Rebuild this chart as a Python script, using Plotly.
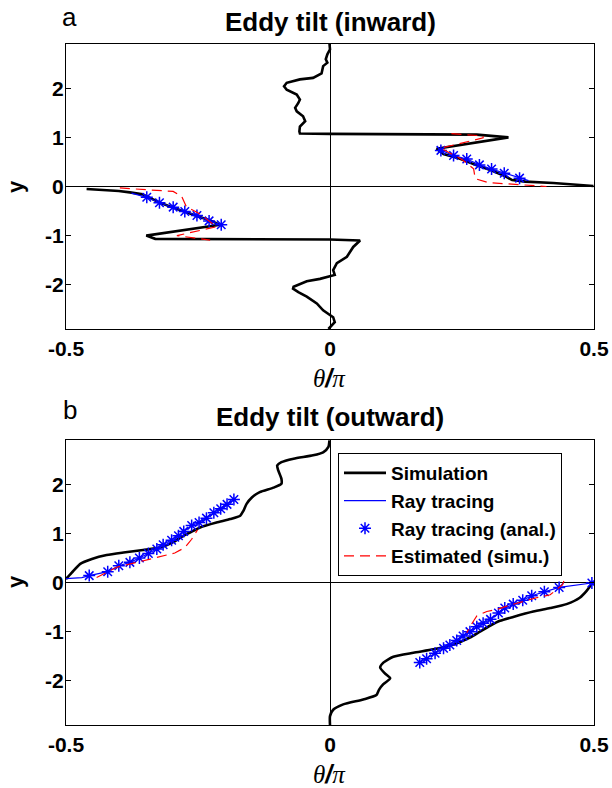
import plotly.graph_objects as go

# ---------------- Panel a: Eddy tilt (inward) ----------------
a_sim_x = [-0.001, 0.0, -0.005, -0.008, -0.005, -0.013, -0.016, -0.032, -0.057, -0.082, -0.087, -0.082,
           -0.063, -0.057, -0.060, -0.066, -0.063, -0.051, -0.047, -0.057, -0.058, -0.057,
           0.0, 0.278, 0.338, 0.202, 0.215, 0.245, 0.278, 0.305, 0.330, 0.345, 0.37, 0.423, 0.499,
           None,
           -0.461, -0.40, -0.379, -0.355, -0.347, -0.322, -0.297, -0.275, -0.252, -0.227, -0.208,
           -0.348, -0.331, 0.0, 0.057, 0.044, 0.032, 0.013, 0.006, 0.009, -0.019, -0.044, -0.069,
           -0.070, -0.060, -0.044, -0.025, -0.013, 0.0, 0.006, 0.009, 0.0, -0.003]
a_sim_y = [2.91, 2.79, 2.69, 2.59, 2.52, 2.45, 2.30, 2.21, 2.18, 2.11, 2.04, 1.97,
           1.87, 1.77, 1.70, 1.60, 1.53, 1.43, 1.33, 1.22, 1.12, 1.08,
           1.07, 1.055, 1.0, 0.77, 0.66, 0.57, 0.43, 0.33, 0.22, 0.13, 0.10, 0.07, 0.01,
           None,
           -0.05, -0.09, -0.12, -0.16, -0.20, -0.33, -0.43, -0.52, -0.60, -0.69, -0.78,
           -1.0, -1.065, -1.08, -1.10, -1.23, -1.43, -1.56, -1.70, -1.80, -1.88, -1.93, -2.04,
           -2.08, -2.15, -2.24, -2.38, -2.52, -2.62, -2.66, -2.76, -2.86, -2.90]

a_ray_x = [0.205, 0.210, 0.234, 0.259, 0.283, 0.306, 0.330, 0.359, 0.376, None,
           -0.376, -0.347, -0.323, -0.297, -0.275, -0.252, -0.229, -0.206]
a_ray_y = [0.76, 0.735, 0.63, 0.56, 0.44, 0.355, 0.27, 0.17, 0.12, None,
           -0.135, -0.22, -0.33, -0.42, -0.51, -0.59, -0.70, -0.78]

a_anal_x = [0.210, 0.234, 0.259, 0.283, 0.306, 0.330, 0.359,
            -0.347, -0.323, -0.297, -0.275, -0.252, -0.229, -0.206]
a_anal_y = [0.735, 0.63, 0.56, 0.44, 0.355, 0.27, 0.17,
            -0.22, -0.33, -0.42, -0.51, -0.59, -0.70, -0.78]

a_est_x = [0.23, 0.29, 0.29, 0.21, 0.25, 0.272, 0.275, 0.30, 0.41, None,
           -0.398, -0.297, -0.281, -0.272, -0.246, -0.215, -0.290, -0.227]
a_est_y = [1.075, 1.03, 0.99, 0.78, 0.55, 0.36, 0.16, 0.08, 0.0, None,
           -0.03, -0.10, -0.20, -0.41, -0.56, -0.82, -1.0, -1.09]

# ---------------- Panel b: Eddy tilt (outward) ----------------
b_sim_x = [-0.001, -0.003, -0.013, -0.032, -0.069, -0.092, -0.100, -0.098, -0.092, -0.092, -0.107,
           -0.133, -0.148, -0.158, -0.164, -0.170, -0.189, -0.215, -0.246, -0.259, -0.278, -0.297,
           -0.322, -0.354, -0.391, -0.423, -0.451, -0.473, -0.489, -0.5,
           None,
           0.496, 0.486, 0.473, 0.448, 0.417, 0.385, 0.347, 0.322, 0.303, 0.284, 0.265, 0.234,
           0.196, 0.158, 0.120, 0.101, 0.095, 0.104, 0.114, 0.101, 0.093, 0.088, 0.063, 0.025,
           0.006, 0.0, 0.0]
b_sim_y = [2.89, 2.76, 2.65, 2.59, 2.52, 2.45, 2.38, 2.28, 2.11, 2.01, 1.93,
           1.84, 1.73, 1.60, 1.46, 1.36, 1.29, 1.22, 1.12, 1.05, 0.95, 0.82,
           0.71, 0.66, 0.61, 0.56, 0.48, 0.38, 0.20, 0.07,
           None,
           -0.02, -0.17, -0.31, -0.44, -0.52, -0.59, -0.70, -0.78, -0.88, -1.00, -1.12, -1.26,
           -1.36, -1.43, -1.51, -1.63, -1.73, -1.85, -1.95, -2.07, -2.18, -2.29, -2.38, -2.48,
           -2.59, -2.72, -2.90]

b_anal_x = [-0.456, -0.421, -0.400, -0.379, -0.361, -0.344, -0.328, -0.316, -0.300, -0.287,
            -0.277, -0.262, -0.248, -0.234, -0.220, -0.207, -0.195, -0.182,
            0.496, 0.434, 0.406, 0.382, 0.365, 0.347, 0.331, 0.319, 0.304, 0.290,
            0.278, 0.265, 0.252, 0.240, 0.227, 0.215, 0.199, 0.183, 0.170]
b_anal_y = [0.14, 0.22, 0.34, 0.41, 0.50, 0.59, 0.68, 0.77, 0.86, 0.95,
            1.04, 1.16, 1.22, 1.31, 1.42, 1.50, 1.59, 1.69,
            -0.01, -0.10, -0.19, -0.27, -0.36, -0.44, -0.52, -0.62, -0.75, -0.83,
            -0.90, -1.00, -1.09, -1.18, -1.27, -1.34, -1.44, -1.55, -1.63]

b_ray_x = [-0.5, -0.47, -0.456, -0.421, -0.400, -0.379, -0.361, -0.344, -0.328, -0.316, -0.300,
           -0.287, -0.277, -0.262, -0.248, -0.234, -0.220, -0.207, -0.195, -0.182, None,
           0.5, 0.496, 0.434, 0.406, 0.382, 0.365, 0.347, 0.331, 0.319, 0.304, 0.290,
           0.278, 0.265, 0.252, 0.240, 0.227, 0.215, 0.199, 0.183, 0.170]
b_ray_y = [0.08, 0.10, 0.14, 0.22, 0.34, 0.41, 0.50, 0.59, 0.68, 0.77, 0.86,
           0.95, 1.04, 1.16, 1.22, 1.31, 1.42, 1.50, 1.59, 1.69, None,
           0.0, -0.01, -0.10, -0.19, -0.27, -0.36, -0.44, -0.52, -0.62, -0.75, -0.83,
           -0.90, -1.00, -1.09, -1.18, -1.27, -1.34, -1.44, -1.55, -1.63]

b_est_x = [-0.442, -0.404, -0.366, -0.328, -0.294, -0.275, -0.262, -0.251, None,
           0.443, 0.440, 0.417, 0.391, 0.335, 0.316, 0.297, 0.278, 0.268, 0.259]
b_est_y = [0.10, 0.31, 0.41, 0.51, 0.60, 0.71, 0.88, 1.07, None,
           0.03, -0.05, -0.25, -0.31, -0.48, -0.55, -0.59, -0.68, -0.85, -1.02]

x_ticks = [-0.5, 0, 0.5]
x_ticktext = ["-0.5", "0", "0.5"]
y_ticks = [-2, -1, 0, 1, 2]
y_ticktext = ["-2", "-1", "0", "1", "2"]

W, H = 612, 788
ML, MR = 66, 18
PW = W - ML - MR

def px_x(p):
    return (p - ML) / PW

def px_y(p):
    return 1 - p / H

FONT = "Liberation Sans, Arial, sans-serif"
sim_line = dict(color="black", width=2.6)
ray_line = dict(color="#0000ff", width=1.2)
est_line = dict(color="#ff0000", width=1.2, dash="10px,6px")
star = dict(symbol="asterisk-open", size=10, color="#0000ff", line=dict(color="#0000ff", width=1.5))

fig = go.Figure()
for xs, ys, xa, ya, show, shape in [
    ((a_sim_x, a_ray_x, a_anal_x, a_est_x), (a_sim_y, a_ray_y, a_anal_y, a_est_y), "x", "y", False, "linear"),
    ((b_sim_x, b_ray_x, b_anal_x, b_est_x), (b_sim_y, b_ray_y, b_anal_y, b_est_y), "x2", "y2", True, "spline"),
]:
    fig.add_trace(go.Scatter(x=xs[0], y=ys[0], mode="lines", line=dict(sim_line, shape=shape, smoothing=0.6),
                             name="Simulation", xaxis=xa, yaxis=ya, showlegend=show, connectgaps=False))
    fig.add_trace(go.Scatter(x=xs[1], y=ys[1], mode="lines", line=ray_line, name="Ray tracing",
                             xaxis=xa, yaxis=ya, showlegend=show, connectgaps=False))
    fig.add_trace(go.Scatter(x=xs[2], y=ys[2], mode="markers", marker=star, name="Ray tracing (anal.)",
                             xaxis=xa, yaxis=ya, showlegend=show))
    fig.add_trace(go.Scatter(x=xs[3], y=ys[3], mode="lines", line=est_line, name="Estimated (simu.)",
                             xaxis=xa, yaxis=ya, showlegend=show, connectgaps=False))

axis_common = dict(showline=True, mirror="ticks", linecolor="black", linewidth=1,
                   ticks="inside", ticklen=5, tickcolor="black", showgrid=False,
                   zeroline=True, zerolinecolor="black", zerolinewidth=1,
                   tickfont=dict(family=FONT, size=21, color="black", weight="bold"))

top_dom = [px_y(329), px_y(44)]
bot_dom = [px_y(725), px_y(440)]

fig.update_layout(
    width=W, height=H,
    margin=dict(l=ML, r=MR, t=0, b=0),
    plot_bgcolor="white", paper_bgcolor="white",
    xaxis=dict(axis_common, range=[-0.5, 0.5], tickvals=x_ticks, ticktext=x_ticktext,
               anchor="y", domain=[0, 1], ticklabelstandoff=1),
    yaxis=dict(axis_common, range=[-2.9, 2.9], tickvals=y_ticks, ticktext=y_ticktext,
               anchor="x", domain=top_dom, ticklabelstandoff=-3),
    xaxis2=dict(axis_common, range=[-0.5, 0.5], tickvals=x_ticks, ticktext=x_ticktext,
                anchor="y2", domain=[0, 1], ticklabelstandoff=1),
    yaxis2=dict(axis_common, range=[-2.9, 2.9], tickvals=y_ticks, ticktext=y_ticktext,
                anchor="x2", domain=bot_dom, ticklabelstandoff=-3),
    legend=dict(x=px_x(338), y=px_y(453), xanchor="left", yanchor="top",
                bgcolor="white", bordercolor="black", borderwidth=1,
                font=dict(family=FONT, size=19, color="black", weight="bold"),
                tracegroupgap=0, itemwidth=42),
    showlegend=True,
)

slash = '<span style="font-family:Liberation Sans;font-weight:bold;font-style:italic">/</span>'
annos = [
    dict(text="a", x=px_x(69), y=px_y(17), font=dict(family=FONT, size=26)),
    dict(text="b", x=px_x(70), y=px_y(410), font=dict(family=FONT, size=26)),
    dict(text="<b>Eddy tilt (inward)</b>", x=0.5, y=px_y(22), font=dict(family=FONT, size=26)),
    dict(text="<b>Eddy tilt (outward)</b>", x=0.5, y=px_y(417), font=dict(family=FONT, size=26)),
    dict(text="<i>θ</i>" + slash + "<i>π</i>", x=px_x(329), y=px_y(378),
         font=dict(family="Liberation Serif, Times New Roman, serif", size=25)),
    dict(text="<i>θ</i>" + slash + "<i>π</i>", x=px_x(329), y=px_y(774),
         font=dict(family="Liberation Serif, Times New Roman, serif", size=25)),
    dict(text="<b>y</b>", x=px_x(15), y=px_y(187), textangle=-90, font=dict(family=FONT, size=22)),
    dict(text="<b>y</b>", x=px_x(15), y=px_y(582), textangle=-90, font=dict(family=FONT, size=22)),
]
for a in annos:
    a.setdefault("xref", "paper")
    a.setdefault("yref", "paper")
    a["showarrow"] = False
    a["xanchor"] = "center"
    a["yanchor"] = "middle"
    a["font"]["color"] = "black"
    fig.add_annotation(**a)

fig.write_html("out.html")
